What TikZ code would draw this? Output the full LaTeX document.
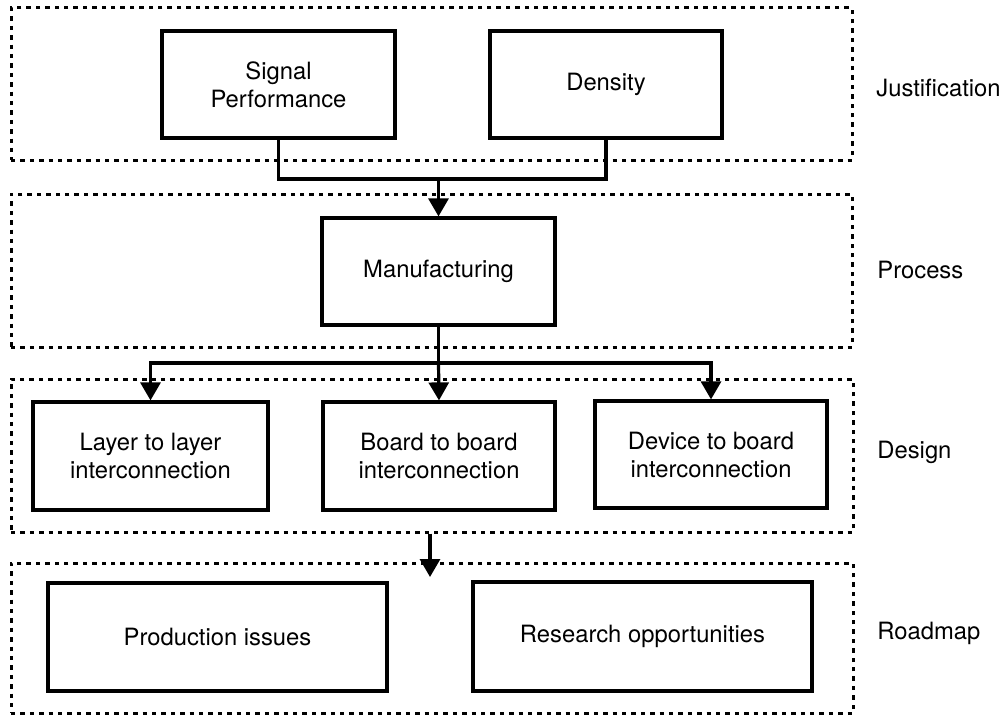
\documentclass[tikz,border=0pt]{standalone}
\usepackage{fontspec}
\setmainfont{TeX Gyre Heros}
\usetikzlibrary{arrows.meta}
\begin{document}
\begin{tikzpicture}[x=0.5pt,y=-0.5pt,
  every node/.style={font=\fontsize{11.9pt}{14pt}\selectfont},
  box/.style={draw, line width=1.6pt, inner sep=0pt, align=center},
  group/.style={draw, line width=1.5pt, dash pattern=on 2.2pt off 2.5pt, inner sep=0pt},
  lab/.style={anchor=west, inner sep=0pt},
  conn/.style={line width=1.6pt},
  arr/.style={line width=1.6pt, -{Triangle[width=10pt,length=9pt]}}]
\useasboundingbox (0,0) rectangle (1006,717);
% groups
\node[group, minimum width=420.5pt, minimum height=76pt] (gjust) at (431.5,84) {};
\node[group, minimum width=420.5pt, minimum height=76.5pt] (gproc) at (431.5,270.5) {};
\node[group, minimum width=421pt, minimum height=76.5pt] (gdes) at (432,455.5) {};
\node[group, minimum width=421pt, minimum height=75pt] (groad) at (432,638) {};
% labels
\node[lab] (ljust) at (876,88) {Justification};
\node[lab] (lproc) at (877,270) {Process};
\node[lab] (ldes) at (877,452) {Design};
\node[lab] (lroad) at (877,633) {Roadmap};
% boxes
\node[box, minimum width=116.5pt, minimum height=53.5pt] (sig) at (278.5,84.5) {Signal\\Performance};
\node[box, minimum width=116pt, minimum height=53.5pt] (den) at (606,84.5) {Density};
\node[box, minimum width=116.5pt, minimum height=53.5pt] (man) at (438.5,271.5) {Manufacturing};
\node[box, minimum width=117.5pt, minimum height=54pt] (lay) at (150.5,456) {Layer to layer\\interconnection};
\node[box, minimum width=116pt, minimum height=54pt] (brd) at (439,456) {Board to board\\interconnection};
\node[box, minimum width=116pt, minimum height=53.5pt] (dev) at (711,454.5) {Device to board\\interconnection};
\node[box, minimum width=169.5pt, minimum height=54pt] (prod) at (217.5,637) {Production issues};
\node[box, minimum width=169.5pt, minimum height=54.5pt] (res) at (642.5,636.5) {Research opportunities};
% connectors
\coordinate (j1) at (438.5,179);
\coordinate (j2) at (438.5,363);
\coordinate (rtip) at (430,577);
\draw[conn] (sig.south) |- (j1) -| (den.south);
\draw[arr] (j1) -- (man.north);
\draw[conn] (man.south) -- (j2);
\draw[arr] (j2) -| (lay.north);
\draw[arr] (j2) -| (dev.north);
\draw[arr] (j2) -- (brd.north);
\draw[arr] (gdes.south -| rtip) -- (rtip);
\end{tikzpicture}
\end{document}
